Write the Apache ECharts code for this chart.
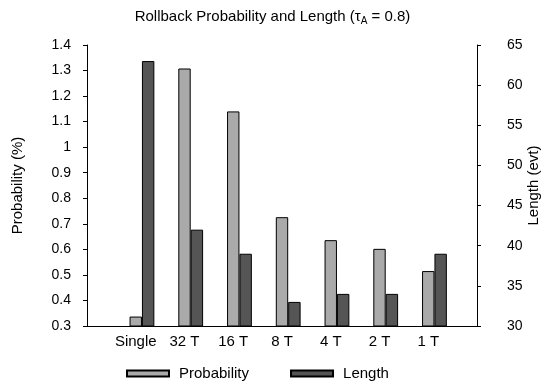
<!DOCTYPE html>
<html>
<head>
<meta charset="utf-8">
<script src="https://cdn.jsdelivr.net/npm/echarts@6/dist/echarts.min.js"></script>
<style>
  html, body { margin: 0; padding: 0; background: #fff; }
  #chart { width: 545px; height: 391px; }
</style>
</head>
<body>
<div id="chart"></div>
<script>
// Configurations along the x axis
const categories = ['Single', '32 T', '16 T', '8 T', '4 T', '2 T', '1 T'];
// Rollback probability (%), left axis
const probability = [0.337, 1.308, 1.14, 0.726, 0.636, 0.602, 0.515];
// Rollback length (events), right axis
const rollbackLength = [63, 42, 39, 33, 34, 34, 39];
// Tick range of both value axes
const probTicks = { min: 0.3, max: 1.4, step: 0.1 };
const lengthTicks = { min: 30, max: 65, step: 5 };

const FONT = 'Liberation Sans, Arial, Helvetica, sans-serif';
const BAR_W = 12.4;

// pad the category axis with an empty slot on each side
const axisCats = [''].concat(categories, ['']);
const pad = arr => [null].concat(arr, [null]);

const chart = echarts.init(document.getElementById('chart'), null, { renderer: 'canvas' });

chart.setOption({
  animation: false,
  backgroundColor: '#ffffff',
  textStyle: { fontFamily: FONT, color: '#000' },
  title: {
    left: 'center',
    top: 2,
    text: '{a|Rollback Probability and Length (τ}{s|A}{a| = 0.8)}',
    textStyle: {
      rich: {
        a: { fontFamily: FONT, fontSize: 15, color: '#000', fontWeight: 'normal' },
        s: { fontFamily: FONT, fontSize: 10, color: '#000', padding: [9, 0, 0, 0], fontWeight: 'normal' }
      }
    }
  },
  legend: {
    bottom: 5,
    left: 121,
    data: ['Probability', 'Length'],
    icon: 'rect',
    itemWidth: 42,
    itemHeight: 6,
    itemGap: 41,
    textStyle: { fontFamily: FONT, fontSize: 15, color: '#000', padding: [0, 0, 0, 5] }
  },
  grid: { left: 87, right: 68, top: 45, bottom: 65, outerBoundsMode: 'none' },
  xAxis: {
    type: 'category',
    data: axisCats,
    boundaryGap: false,
    axisLine: { lineStyle: { color: '#000', width: 1 } },
    axisTick: { show: false },
    axisLabel: { fontFamily: FONT, fontSize: 15, color: '#000', margin: 8, interval: 0 },
    splitLine: { show: false }
  },
  yAxis: [
    {
      type: 'value',
      position: 'left',
      min: probTicks.min,
      max: probTicks.max,
      interval: probTicks.step,
      name: 'Probability (%)',
      nameLocation: 'middle',
      nameRotate: 90,
      nameGap: 62,
      nameMoveOverlap: false,
      nameTextStyle: { fontFamily: FONT, fontSize: 15, color: '#000' },
      axisLine: { show: true, lineStyle: { color: '#000', width: 1 } },
      axisTick: { show: true, length: 4, lineStyle: { color: '#000' } },
      axisLabel: {
        fontFamily: FONT, fontSize: 14, color: '#000', margin: 16,
        formatter: v => String(+v.toFixed(1))
      },
      splitLine: { show: false }
    },
    {
      type: 'value',
      position: 'right',
      min: lengthTicks.min,
      max: lengthTicks.max,
      interval: lengthTicks.step,
      name: 'Length (evt)',
      nameLocation: 'middle',
      nameRotate: 90,
      nameGap: 49,
      nameMoveOverlap: false,
      nameTextStyle: { fontFamily: FONT, fontSize: 15, color: '#000' },
      axisLine: { show: true, lineStyle: { color: '#000', width: 1 } },
      axisTick: { show: true, length: 4, lineStyle: { color: '#000' } },
      axisLabel: { fontFamily: FONT, fontSize: 14, color: '#000', margin: 30 },
      splitLine: { show: false }
    }
  ],
  series: [
    {
      // empty slot so the probability bar sits centred on its tick
      type: 'bar',
      yAxisIndex: 0,
      barWidth: BAR_W,
      barGap: '0%',
      data: pad(categories.map(() => null)),
      silent: true
    },
    {
      name: 'Probability',
      type: 'bar',
      yAxisIndex: 0,
      barWidth: BAR_W,
      barGap: '0%',
      data: pad(probability),
      itemStyle: { color: '#aaaaaa', borderColor: '#000', borderWidth: 1 }
    },
    {
      name: 'Length',
      type: 'bar',
      yAxisIndex: 1,
      barWidth: BAR_W,
      barGap: '0%',
      data: pad(rollbackLength),
      itemStyle: { color: '#555555', borderColor: '#000', borderWidth: 1 }
    }
  ]
});
</script>
</body>
</html>
